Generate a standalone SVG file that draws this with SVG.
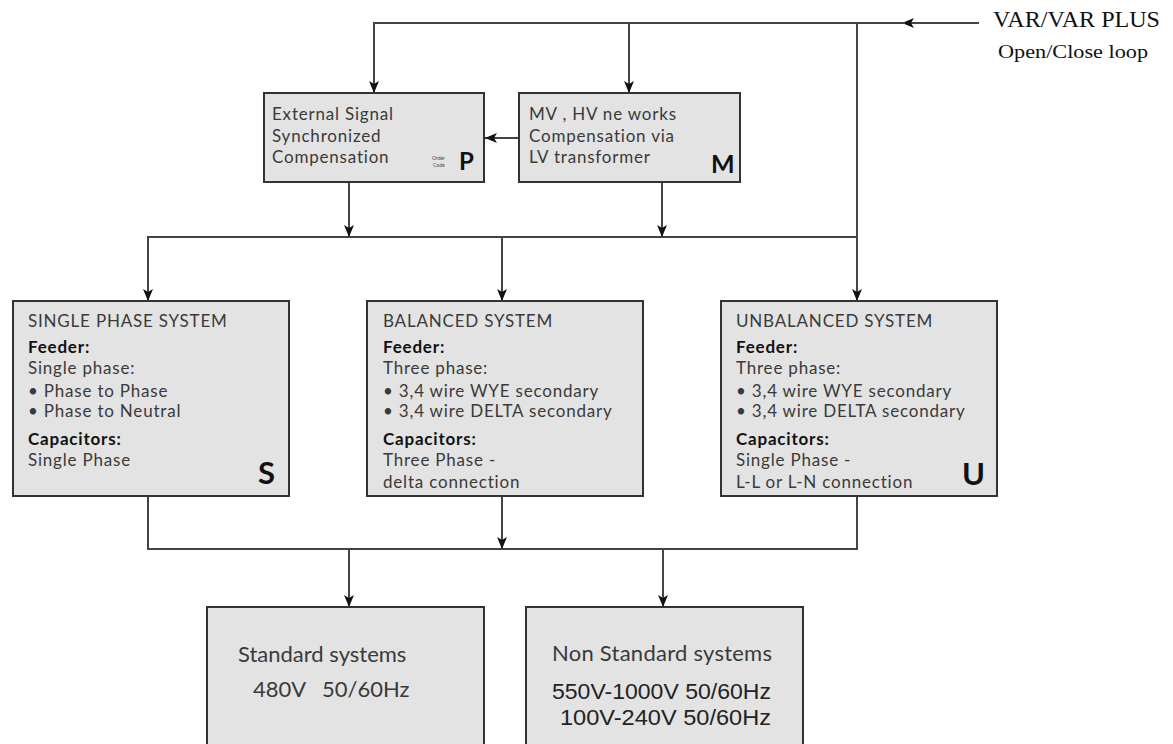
<svg xmlns="http://www.w3.org/2000/svg" width="1173" height="744" viewBox="0 0 1173 744">
<style>
.box{fill:#e3e3e3;stroke:#333;stroke-width:2}
.ln{fill:none;stroke:#444;stroke-width:2}
.t{font-family:Lato,"Open Sans",sans-serif;font-size:17px;letter-spacing:0.8px;fill:#3a3a3a}
.b{font-family:Lato,"Open Sans",sans-serif;font-size:17px;letter-spacing:0.8px;font-weight:bold;fill:#111}
.big{font-family:Lato,"Open Sans",sans-serif;font-weight:bold;fill:#111}
.tiny{font-family:Lato,"Open Sans",sans-serif;font-size:5px;fill:#444}
.lg{font-family:Lato,"Open Sans",sans-serif;font-size:22px;fill:#3a3a3a}
.tm{font-family:"Liberation Serif",serif;fill:#111}
.ar{font-family:"Liberation Sans",sans-serif;font-size:22px;fill:#222}
</style>
<defs>
<marker id="ah" markerUnits="userSpaceOnUse" markerWidth="12" markerHeight="12" viewBox="0 0 12 12" refX="12" refY="6" orient="auto">
<path d="M0,1 L12,6 L0,11 L3,6 Z" fill="#111"/>
</marker>
</defs>
<g id="connectors">
<path class="ln" d="M979,23 H902" marker-end="url(#ah)"/>
<path class="ln" d="M905,23 H374 V93" marker-end="url(#ah)"/>
<path class="ln" d="M629,23 V93" marker-end="url(#ah)"/>
<path class="ln" d="M857,23 V237 H148 V301" marker-end="url(#ah)"/>
<path class="ln" d="M349,183 V237" marker-end="url(#ah)"/>
<path class="ln" d="M662,183 V237" marker-end="url(#ah)"/>
<path class="ln" d="M502,237 V301" marker-end="url(#ah)"/>
<path class="ln" d="M857,237 V301" marker-end="url(#ah)"/>
<path class="ln" d="M519,138 H485" marker-end="url(#ah)"/>
<path class="ln" d="M148,496 V549 H857 V496"/>
<path class="ln" d="M502,496 V549" marker-end="url(#ah)"/>
<path class="ln" d="M349,549 V607" marker-end="url(#ah)"/>
<path class="ln" d="M663,549 V607" marker-end="url(#ah)"/>
</g>
<g id="input">
<text class="tm" x="993" y="27" font-size="24" textLength="167" lengthAdjust="spacingAndGlyphs">VAR/VAR PLUS</text>
<text class="tm" x="998" y="58" font-size="19" fill="#333" textLength="150" lengthAdjust="spacingAndGlyphs">Open/Close loop</text>
</g>
<g id="nodeP">
<rect class="box" x="264" y="93" width="220" height="89"/>
<text class="t" x="272" y="120">External Signal</text>
<text class="t" x="272" y="142">Synchronized</text>
<text class="t" x="272" y="163">Compensation</text>
<text class="tiny" x="432" y="160">Order</text>
<text class="tiny" x="433" y="167">Code</text>
<text class="big" x="459" y="170" font-size="24">P</text>
</g>
<g id="nodeM">
<rect class="box" x="519" y="93" width="221" height="89"/>
<text class="t" x="529" y="120">MV , HV ne works</text>
<text class="t" x="529" y="142">Compensation via</text>
<text class="t" x="529" y="163">LV transformer</text>
<text class="big" x="711" y="173" font-size="25">M</text>
</g>
<g id="nodeS">
<rect class="box" x="13" y="301" width="276" height="195"/>
<text class="t" x="28" y="327">SINGLE PHASE SYSTEM</text>
<text class="b" x="28" y="353">Feeder:</text>
<text class="t" x="28" y="374">Single phase:</text>
<text class="t" x="28" y="397">• Phase to Phase</text>
<text class="t" x="28" y="417">• Phase to Neutral</text>
<text class="b" x="28" y="445">Capacitors:</text>
<text class="t" x="28" y="466">Single Phase</text>
<text class="big" x="258" y="484" font-size="31">S</text>
</g>
<g id="nodeB">
<rect class="box" x="367" y="301" width="276" height="195"/>
<text class="t" x="383" y="327">BALANCED SYSTEM</text>
<text class="b" x="383" y="353">Feeder:</text>
<text class="t" x="383" y="374">Three phase:</text>
<text class="t" x="383" y="397">• 3,4 wire WYE secondary</text>
<text class="t" x="383" y="417">• 3,4 wire DELTA secondary</text>
<text class="b" x="383" y="445">Capacitors:</text>
<text class="t" x="383" y="466">Three Phase -</text>
<text class="t" x="383" y="488">delta connection</text>
</g>
<g id="nodeU">
<rect class="box" x="721" y="301" width="276" height="195"/>
<text class="t" x="736" y="327">UNBALANCED SYSTEM</text>
<text class="b" x="736" y="353">Feeder:</text>
<text class="t" x="736" y="374">Three phase:</text>
<text class="t" x="736" y="397">• 3,4 wire WYE secondary</text>
<text class="t" x="736" y="417">• 3,4 wire DELTA secondary</text>
<text class="b" x="736" y="445">Capacitors:</text>
<text class="t" x="736" y="466">Single Phase -</text>
<text class="t" x="736" y="488">L-L or L-N connection</text>
<text class="big" x="962" y="485" font-size="31">U</text>
</g>
<g id="nodeStd">
<rect class="box" x="207" y="607" width="277" height="150"/>
<text class="lg" x="238" y="662">Standard systems</text>
<text class="lg" x="253" y="697">480V</text>
<text class="lg" x="322" y="697">50/60Hz</text>
</g>
<g id="nodeNonStd">
<rect class="box" x="526" y="607" width="277" height="150"/>
<text class="lg" x="552" y="661" textLength="220">Non Standard systems</text>
<text class="ar" x="552" y="699" textLength="219" lengthAdjust="spacingAndGlyphs">550V-1000V 50/60Hz</text>
<text class="ar" x="560" y="725" textLength="211" lengthAdjust="spacingAndGlyphs">100V-240V 50/60Hz</text>
</g>
</svg>
